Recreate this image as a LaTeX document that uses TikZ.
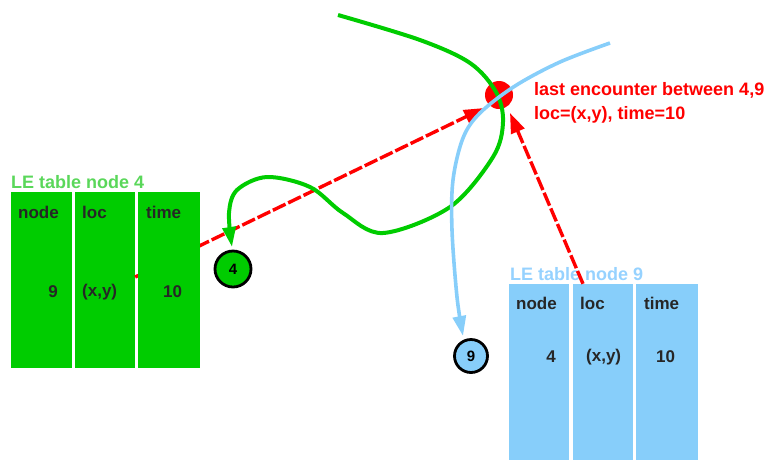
\documentclass[tikz,border=0pt]{standalone}
\usepackage{fontspec}
\setmainfont{Liberation Sans}
\usetikzlibrary{arrows.meta}
\definecolor{gfill}{RGB}{0,204,0}
\definecolor{bfill}{RGB}{135,206,250}
\definecolor{glabel}{RGB}{90,215,90}
\definecolor{blabel}{RGB}{150,210,255}
\definecolor{redc}{RGB}{255,0,0}
\tikzset{
  col4/.style={fill=gfill, draw=none, inner sep=0pt},
  col9/.style={fill=bfill, draw=none, inner sep=0pt},
  celltxt/.style={font=\fontsize{17}{19}\selectfont\bfseries, text=black!85, inner sep=0pt},
  lbl/.style={font=\fontsize{18}{20}\selectfont\bfseries, inner sep=0pt, anchor=west},
  redarrow/.style={draw=redc, line width=3.4pt, dash pattern=on 14pt off 3pt, -{Triangle[length=20pt,width=14pt]}},
  garrow/.style={draw=gfill, line width=4pt, -{Triangle[length=20pt,width=13pt]}},
  barrow/.style={draw=bfill, line width=3.6pt, -{Triangle[length=20pt,width=13pt]}},
  mnode/.style={circle, draw=black, line width=2.8pt, inner sep=0pt, font=\fontsize{15}{17}\selectfont\bfseries},
}
\begin{document}
\begin{tikzpicture}[x=1pt,y=-1pt]
\useasboundingbox (0,0) rectangle (771,459);

% red encounter dot
\node[circle, fill=redc, minimum size=28pt, inner sep=0pt] (dot) at (499,95) {};

% end coordinates
\coordinate (e1) at (484,108);
\coordinate (e2) at (510,113);

% table 4 columns (first two)
\node[col4, minimum width=61pt, minimum height=176pt] (t4c1) at (41.5,280) {};
\node[col4, minimum width=60pt, minimum height=176pt] (t4c2) at (105,280) {};

% red arrow from loc of table 4 (passes behind time column)
\draw[redarrow] ([yshift=3pt]t4c2.east) -- (e1);

\node[col4, minimum width=62pt, minimum height=176pt] (t4c3) at (169,280) {};

% table 9 columns
\node[col9, minimum width=60pt, minimum height=176pt] (t9c1) at (539,372) {};
\node[col9, minimum width=60pt, minimum height=176pt] (t9c2) at (603,372) {};
\node[col9, minimum width=62pt, minimum height=176pt] (t9c3) at (667,372) {};

% labels
\node[lbl, text=glabel] (l4) at (11,182) {LE table node 4};
\node[lbl, text=blabel] (l9) at (510,274) {LE table node 9};
\node[lbl, text=redc] (r1) at (534,90) {last encounter between 4,9};
\node[lbl, text=redc] (r2) at (534,115) {loc=(x,y), time=10};

% table 4 texts
\node[celltxt, anchor=west] (h41) at (18,212) {node};
\node[celltxt, anchor=west] (h42) at (82,212) {loc};
\node[celltxt, anchor=west] (h43) at (146,212) {time};
\node[celltxt, anchor=east] (v41) at (58,292) {9};
\node[celltxt, anchor=west] (v42) at (82,292) {(x,y)};
\node[celltxt, anchor=west] (v43) at (163,292) {10};

% table 9 texts
\node[celltxt, anchor=west] (h91) at (516,303) {node};
\node[celltxt, anchor=west] (h92) at (580,303) {loc};
\node[celltxt, anchor=west] (h93) at (644,303) {time};
\node[celltxt, anchor=east] (v91) at (556,357) {4};
\node[celltxt, anchor=west] (v92) at (586,357) {(x,y)};
\node[celltxt, anchor=west] (v93) at (656,357) {10};

% mobile nodes
\node[mnode, fill=gfill, minimum size=36pt] (n4) at (233,269) {4};
\node[mnode, fill=bfill, minimum size=33pt] (n9) at (471,356) {9};

% red arrow from loc of table 9
\draw[redarrow] ([xshift=-20pt]t9c2.north) -- (e2);

% green trajectory
\draw[garrow] plot[smooth, tension=0.55] coordinates {(338,15) (420,40) (470,63) (496,92) (503,122) (493,157) (450,207) (383,233) (343,213) (310,187) (267,177) (237,190) (229,213) (232,247)};

% blue trajectory
\draw[barrow] plot[smooth, tension=0.55] coordinates {(610,43) (560,62) (515,86) (480,113) (463,138) (453,180) (452,230) (457,297) (463,336)};
\end{tikzpicture}
\end{document}
